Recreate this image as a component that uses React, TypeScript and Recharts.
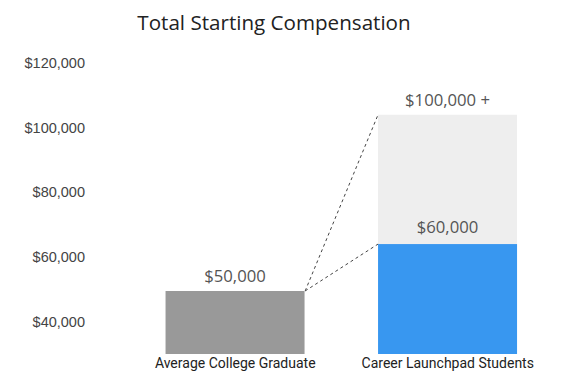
import { BarChart, Bar, XAxis, YAxis, Cell, LabelList } from 'recharts';

const categories = ['Average College Graduate', 'Career Launchpad Students'];
const baseValues = [49500, 64000];
const extraValues = [0, 40000];
const baseLabels = ['$50,000', '$60,000'];
const extraLabels = ['', '$100,000 +'];
const yTicks = [40000, 60000, 80000, 100000, 120000];

const baseColors = ['#999999', '#3897f0'];
const CATEGORY_GAP = 0.172;

const data = categories.map((name, i) => ({
  name,
  base: baseValues[i],
  extra: extraValues[i],
}));

const money = (v: number) => '$' + v.toLocaleString('en-US');

// light "upside" segment; also draws the dashed connectors from the gray bar
function ExtraShape(props: any) {
  const { x, y, width, height, index } = props;
  if (!height || index === 0) return null;
  const band = width / (1 - 2 * CATEGORY_GAP);
  const fromX = x - (band - width);
  const perUnit = height / extraValues[index];
  const blueTop = y + height;
  const grayTop = blueTop + (baseValues[index] - baseValues[0]) * perUnit;
  return (
    <g>
      <rect x={x} y={y} width={width} height={height} fill="#eeeeee" />
      <line x1={fromX} y1={grayTop} x2={x} y2={y} stroke="#444" strokeDasharray="3 3" />
      <line x1={fromX} y1={grayTop} x2={x} y2={blueTop} stroke="#444" strokeDasharray="3 3" />
    </g>
  );
}

const makeLabel = (labels: string[], gaps: number[]) => (props: any) => {
  const { x, y, width, index } = props;
  const text = labels[index];
  if (!text) return null;
  return (
    <text
      x={x + width / 2}
      y={y - gaps[index]}
      textAnchor="middle"
      fontFamily="'Open Sans', sans-serif"
      fontSize={16.7}
      fill="#555"
    >
      {text}
    </text>
  );
};

export default function App() {
  return (
    <div style={{ position: 'absolute', left: 0, top: 0, width: 582, height: 383, background: '#fff' }}>
      <div
        style={{
          position: 'absolute',
          left: 0,
          top: 8,
          width: 548,
          textAlign: 'center',
          fontFamily: "'Open Sans', sans-serif",
          fontSize: 20.6,
          color: '#222',
        }}
      >
        Total Starting Compensation
      </div>
      <BarChart
        width={582}
        height={383}
        data={data}
        margin={{ top: 63, right: 28, left: 0, bottom: 0 }}
        barCategoryGap={`${CATEGORY_GAP * 100}%`}
      >
        <XAxis
          dataKey="name"
          axisLine={false}
          tickLine={false}
          tickSize={0}
          tickMargin={4}
          height={29}
          tick={{ fontFamily: 'Roboto, sans-serif', fontSize: 14, fill: '#222' }}
        />
        <YAxis
          width={129}
          domain={[30000, 120000]}
          allowDataOverflow
          ticks={yTicks}
          axisLine={false}
          tickLine={false}
          tickSize={0}
          tickMargin={44}
          tickFormatter={money}
          tick={{ fontFamily: "'Liberation Sans', Arial, sans-serif", fontSize: 14.5, fill: '#444' }}
        />
        <Bar dataKey="base" stackId="a" isAnimationActive={false}>
          {data.map((d, i) => (
            <Cell key={d.name} fill={baseColors[i]} />
          ))}
          <LabelList dataKey="base" content={makeLabel(baseLabels, [9, 11.5])} />
        </Bar>
        <Bar dataKey="extra" stackId="a" isAnimationActive={false} shape={<ExtraShape />}>
          <LabelList dataKey="extra" content={makeLabel(extraLabels, [9, 9])} />
        </Bar>
      </BarChart>
    </div>
  );
}
